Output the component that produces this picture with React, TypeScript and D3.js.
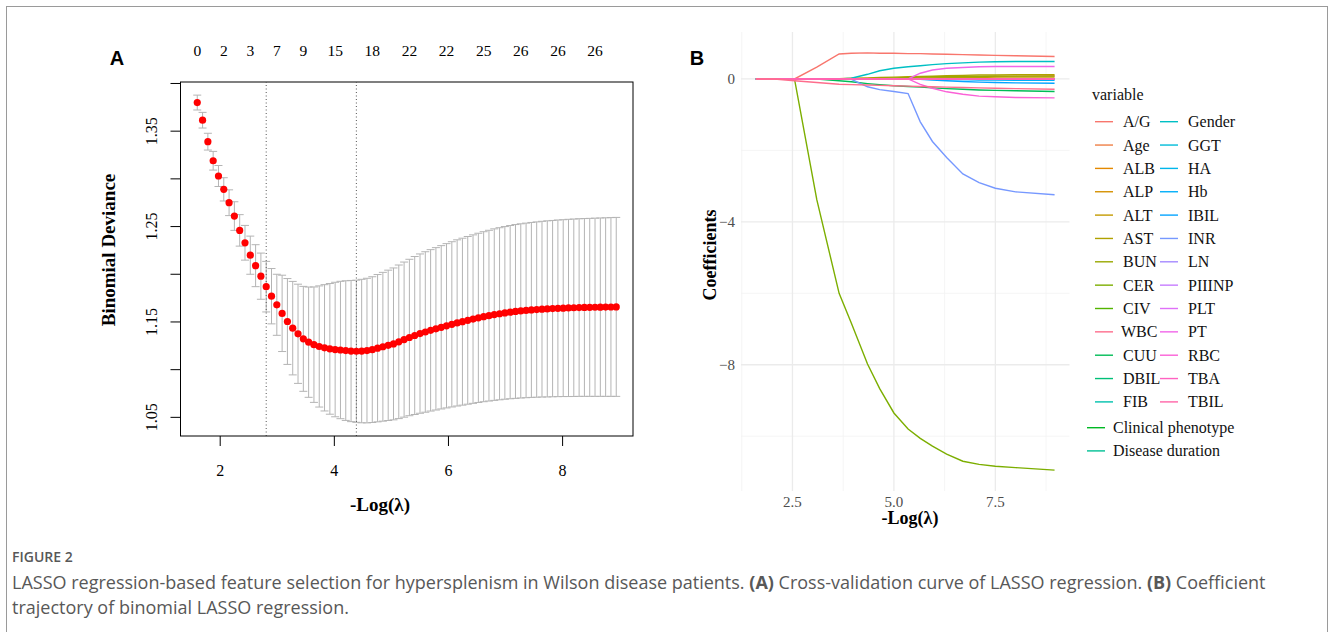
import React, { useEffect, useRef } from "react";
import * as d3 from "d3";

// ---------- panel A : cross-validation curve ----------
const logLambdaRange = [1.598, 8.94];

const cvMean = [
  1.380, 1.3615, 1.339, 1.319, 1.303, 1.289, 1.275, 1.261, 1.246, 1.233,
  1.220, 1.209, 1.198, 1.187, 1.177, 1.168, 1.159, 1.1505, 1.1435, 1.1376,
  1.1323, 1.1288, 1.1262, 1.1243, 1.1229, 1.1218, 1.1211, 1.1206, 1.1200, 1.1195,
  1.1193, 1.1195, 1.1200, 1.1210, 1.1225, 1.1240, 1.1255, 1.1270, 1.1292, 1.1315,
  1.1337, 1.1358, 1.1378, 1.1395, 1.1412, 1.1428, 1.1444, 1.1460, 1.1475, 1.1490,
  1.1503, 1.1517, 1.1530, 1.1543, 1.1555, 1.1566, 1.1577, 1.1586, 1.1595, 1.1603,
  1.1610, 1.1616, 1.1621, 1.1626, 1.1630, 1.1634, 1.1637, 1.1640, 1.1643, 1.1645,
  1.1647, 1.1649, 1.1651, 1.1652, 1.1653, 1.1654, 1.1655, 1.1656, 1.1657, 1.1658
];

const cvSE = [
  0.0078, 0.0082, 0.0088, 0.0098, 0.0110, 0.0122, 0.0135, 0.0150, 0.0165, 0.0182,
  0.0200, 0.0220, 0.0242, 0.0265, 0.0290, 0.0320, 0.0400, 0.0450, 0.0490, 0.0520,
  0.0550, 0.0578, 0.0605, 0.0635, 0.0662, 0.0685, 0.0705, 0.0720, 0.0732, 0.0740,
  0.0745, 0.0752, 0.0758, 0.0764, 0.0772, 0.0780, 0.0788, 0.0796, 0.0805, 0.0813,
  0.0820, 0.0828, 0.0835, 0.0841, 0.0846, 0.0851, 0.0856, 0.0861, 0.0866, 0.0871,
  0.0875, 0.0879, 0.0883, 0.0887, 0.0891, 0.0895, 0.0899, 0.0902, 0.0905, 0.0908,
  0.0911, 0.0913, 0.0915, 0.0917, 0.0919, 0.0921, 0.0923, 0.0924, 0.0926, 0.0927,
  0.0929, 0.0930, 0.0931, 0.0932, 0.0933, 0.0934, 0.0935, 0.0936, 0.0937, 0.0938
];

const idxLambdaMin = 30;
const idxLambda1se = 13;

const topLabelIdx = [0, 5, 10, 15, 20, 26, 33, 40, 47, 54, 61, 68, 75];
const topLabelNz = [0, 2, 3, 7, 9, 15, 18, 22, 22, 25, 26, 26, 26];

const xTicksA = [2, 4, 6, 8];
const yTicksA = [1.05, 1.1, 1.15, 1.2, 1.25, 1.3, 1.35, 1.4];
const yLabelsA = ["1.05", "1.15", "1.25", "1.35"];

// ---------- panel B : coefficient paths ----------
const variables = [
  "A/G", "Age", "ALB", "ALP", "ALT", "AST", "BUN", "CER", "CIV",
  "Clinical phenotype", "CUU", "DBIL", "Disease duration", "FIB", "Gender",
  "GGT", "HA", "Hb", "IBIL", "INR", "LN", "PIIINP", "PLT", "PT", "RBC",
  "TBA", "TBIL", "WBC"
];

const pathX = [1.6, 2.05, 2.55, 3.1, 3.65, 3.95, 4.35, 4.65, 5.0, 5.35, 5.65, 5.95, 6.3, 6.7, 7.1, 7.5, 8.0, 8.96];

const coefAG = [0, 0, 0, 0.33, 0.7, 0.72, 0.73, 0.72, 0.72, 0.71, 0.71, 0.7, 0.69, 0.68, 0.67, 0.66, 0.65, 0.63];
const coefCER = [0, 0, 0, -3.38, -6.0, -6.83, -7.98, -8.67, -9.35, -9.8, -10.06, -10.28, -10.5, -10.7, -10.79, -10.84, -10.88, -10.95];
const coefINR = [0, 0, 0, 0, 0, -0.01, -0.22, -0.3, -0.35, -0.41, -1.2, -1.75, -2.2, -2.66, -2.9, -3.06, -3.16, -3.24];
const coefGender = [0, 0, 0, 0, 0, 0.02, 0.13, 0.23, 0.3, 0.34, 0.37, 0.4, 0.43, 0.45, 0.47, 0.48, 0.49, 0.49];
const coefPT = [0, 0, 0, 0, 0, 0, 0, 0, 0, 0, 0.16, 0.25, 0.3, 0.32, 0.34, 0.35, 0.35, 0.35];
const coefRBC = [0, 0, 0, 0, 0, 0, 0, 0, 0, 0, -0.15, -0.26, -0.36, -0.43, -0.48, -0.5, -0.52, -0.53];
const coefWBC = [0, 0, -0.05, -0.1, -0.15, -0.16, -0.17, -0.18, -0.19, -0.2, -0.21, -0.22, -0.23, -0.24, -0.25, -0.26, -0.27, -0.29];
const coefCUU = [0, 0, 0, 0, -0.05, -0.08, -0.13, -0.16, -0.19, -0.21, -0.23, -0.25, -0.27, -0.29, -0.31, -0.32, -0.33, -0.35];
const coefAST = [0, 0, 0, 0, 0.01, 0.02, 0.03, 0.04, 0.05, 0.06, 0.07, 0.08, 0.09, 0.1, 0.11, 0.11, 0.12, 0.12];
const coefBUN = [0, 0, 0, 0, 0, 0, 0.01, 0.02, 0.03, 0.04, 0.05, 0.06, 0.06, 0.07, 0.07, 0.08, 0.08, 0.08];
const coefAge = [0, 0, 0, 0, 0, 0, 0, 0, 0, 0.01, 0.02, 0.03, 0.04, 0.05, 0.06, 0.07, 0.08, 0.09];
const coefALT = [0, 0, 0, 0, 0, 0, 0, 0, 0.01, 0.01, 0.02, 0.03, 0.03, 0.04, 0.04, 0.05, 0.05, 0.05];
const coefIBIL = [0, 0, 0, 0, 0, 0, 0, 0, 0, 0, -0.01, -0.03, -0.05, -0.07, -0.09, -0.1, -0.11, -0.12];
const coefHb = [0, 0, 0, 0, 0, 0, 0, 0, 0, 0, 0, -0.01, -0.02, -0.02, -0.03, -0.03, -0.04, -0.04];
const coefZero = [0, 0, 0, 0, 0, 0, 0, 0, 0, 0, 0, 0, 0, 0, 0, 0, 0, 0];

const xTicksB = [2.5, 5.0, 7.5];
const xMinorB = [1.25, 3.75, 6.25, 8.75];
const yTicksB = [0, -4, -8];
const yMinorB = [-2, -6, -10];

const legendCol1 = ["A/G", "Age", "ALB", "ALP", "ALT", "AST", "BUN", "CER", "CIV", "WBC", "CUU", "DBIL", "FIB"];
const legendCol2 = ["Gender", "GGT", "HA", "Hb", "IBIL", "INR", "LN", "PIIINP", "PLT", "PT", "RBC", "TBA", "TBIL"];
const legendExtra = ["Clinical phenotype", "Disease duration"];

const SERIF = "'Liberation Serif', 'Times New Roman', serif";
const SANS = "'Liberation Sans', Arial, sans-serif";

// R's hcl() (polar LUV) -> hex, for ggplot's hue palette
function hclHex(h, c, l) {
  var hr = (h * Math.PI) / 180;
  var U = c * Math.cos(hr);
  var V = c * Math.sin(hr);
  var Y = 100 * (l > 7.999592 ? Math.pow((l + 16) / 116, 3) : l / 903.3);
  var u = U / (13 * l) + 0.1978398;
  var v = V / (13 * l) + 0.4683363;
  var X = (9 * Y * u) / (4 * v);
  var Z = -X / 3 - 5 * Y + (3 * Y) / v;
  var g = t => (t > 0.00304 ? 1.055 * Math.pow(t, 1 / 2.4) - 0.055 : 12.92 * t);
  var cl = t => Math.round(255 * Math.max(0, Math.min(1, g(t))));
  var r = cl((3.240479 * X - 1.53715 * Y - 0.498535 * Z) / 100);
  var gg = cl((-0.969256 * X + 1.875992 * Y + 0.041556 * Z) / 100);
  var b = cl((0.055648 * X - 0.204043 * Y + 1.057311 * Z) / 100);
  return d3.rgb(r, gg, b).formatHex();
}

export default function App() {
  const ref = useRef(null);

  useEffect(() => {
    document.body.style.margin = "0";
    var svg = d3.select(ref.current);
    svg.selectAll("*").remove();

    // outer frame
    svg
      .append("rect")
      .attr("x", 6.5)
      .attr("y", 6.5)
      .attr("width", 1321)
      .attr("height", 650)
      .attr("fill", "none")
      .attr("stroke", "#9a9a9a");

    // ================= panel A =================
    var n = cvMean.length;
    var idxToLog = d3.scaleLinear().domain([0, n - 1]).range(logLambdaRange);
    var xPad = (logLambdaRange[1] - logLambdaRange[0]) * 0.04;
    var xA = d3
      .scaleLinear()
      .domain([logLambdaRange[0] - xPad, logLambdaRange[1] + xPad])
      .range([180.5, 633]);
    var upper = cvMean.map((m, i) => m + cvSE[i]);
    var lower = cvMean.map((m, i) => m - cvSE[i]);
    var yMin = d3.min(lower);
    var yMax = d3.max(upper);
    var yPad = (yMax - yMin) * 0.04;
    var yA = d3
      .scaleLinear()
      .domain([yMin - yPad, yMax + yPad])
      .range([436, 82]);

    var gA = svg.append("g");
    var px = i => xA(idxToLog(i));

    // error bars
    var bars = gA.append("g").attr("stroke", "#b4b4b4").attr("stroke-width", 1);
    cvMean.forEach((m, i) => {
      bars.append("line").attr("x1", px(i)).attr("x2", px(i)).attr("y1", yA(upper[i])).attr("y2", yA(lower[i]));
      bars.append("line").attr("x1", px(i) - 4).attr("x2", px(i) + 4).attr("y1", yA(upper[i])).attr("y2", yA(upper[i]));
      bars.append("line").attr("x1", px(i) - 4).attr("x2", px(i) + 4).attr("y1", yA(lower[i])).attr("y2", yA(lower[i]));
    });

    // lambda.min / lambda.1se
    [idxLambda1se, idxLambdaMin].forEach(i => {
      gA.append("line")
        .attr("x1", px(i))
        .attr("x2", px(i))
        .attr("y1", yA.range()[0])
        .attr("y2", yA.range()[1])
        .attr("stroke", "#555")
        .attr("stroke-dasharray", "1,2.5");
    });

    // points
    gA.selectAll(".cvdot")
      .data(cvMean)
      .enter()
      .append("circle")
      .attr("class", "cvdot")
      .attr("cx", (d, i) => px(i))
      .attr("cy", d => yA(d))
      .attr("r", 3.6)
      .attr("fill", "#ff0000");

    // box
    gA.append("rect")
      .attr("x", xA.range()[0])
      .attr("y", yA.range()[1])
      .attr("width", xA.range()[1] - xA.range()[0])
      .attr("height", yA.range()[0] - yA.range()[1])
      .attr("fill", "none")
      .attr("stroke", "#000");

    // bottom axis
    xTicksA.forEach(t => {
      gA.append("line").attr("x1", xA(t)).attr("x2", xA(t)).attr("y1", 436).attr("y2", 446).attr("stroke", "#000");
      gA.append("text")
        .attr("x", xA(t))
        .attr("y", 476)
        .attr("text-anchor", "middle")
        .attr("font-family", SERIF)
        .attr("font-size", 16)
        .text(t);
    });

    // left axis
    yTicksA.forEach(t => {
      gA.append("line").attr("x1", 170.5).attr("x2", 180.5).attr("y1", yA(t)).attr("y2", yA(t)).attr("stroke", "#000");
    });
    yLabelsA.forEach(t => {
      gA.append("text")
        .attr("transform", "translate(157," + yA(+t) + ") rotate(-90)")
        .attr("text-anchor", "middle")
        .attr("font-family", SERIF)
        .attr("font-size", 16)
        .text(t);
    });

    // top axis : number of non-zero coefficients
    topLabelIdx.forEach((idx, k) => {
      gA.append("text")
        .attr("x", px(idx))
        .attr("y", 56)
        .attr("text-anchor", "middle")
        .attr("font-family", SERIF)
        .attr("font-size", 15.5)
        .text(topLabelNz[k]);
    });

    gA.append("text")
      .attr("transform", "translate(115,250) rotate(-90)")
      .attr("text-anchor", "middle")
      .attr("font-family", SERIF)
      .attr("font-weight", "bold")
      .attr("font-size", 19)
      .text("Binomial Deviance");

    gA.append("text")
      .attr("x", 380)
      .attr("y", 511)
      .attr("text-anchor", "middle")
      .attr("font-family", SERIF)
      .attr("font-weight", "bold")
      .attr("font-size", 19)
      .text("-Log(λ)");

    gA.append("text")
      .attr("x", 117)
      .attr("y", 65)
      .attr("text-anchor", "middle")
      .attr("font-family", SANS)
      .attr("font-weight", "bold")
      .attr("font-size", 20)
      .text("A");

    // ================= panel B =================
    var paths = {
      "A/G": coefAG,
      Age: coefAge,
      ALT: coefALT,
      AST: coefAST,
      BUN: coefBUN,
      CER: coefCER,
      CUU: coefCUU,
      Gender: coefGender,
      Hb: coefHb,
      IBIL: coefIBIL,
      INR: coefINR,
      PT: coefPT,
      RBC: coefRBC,
      WBC: coefWBC
    };
    var colour = {};
    variables.forEach((v, i) => {
      colour[v] = hclHex(15 + (i * 360) / variables.length, 100, 65);
    });

    var allY = variables.flatMap(v => paths[v] || coefZero);
    var bxExt = d3.extent(pathX);
    var byExt = d3.extent(allY);
    var bxPad = (bxExt[1] - bxExt[0]) * 0.05;
    var byPad = (byExt[1] - byExt[0]) * 0.05;
    var xB = d3
      .scaleLinear()
      .domain([bxExt[0] - bxPad, bxExt[1] + bxPad])
      .range([741, 1069.5]);
    var yB = d3
      .scaleLinear()
      .domain([byExt[0] - byPad, byExt[1] + byPad])
      .range([491, 32]);

    var gB = svg.append("g");
    var grid = gB.append("g");
    xMinorB.forEach(t => {
      grid.append("line").attr("x1", xB(t)).attr("x2", xB(t)).attr("y1", 32).attr("y2", 491).attr("stroke", "#f2f2f2").attr("stroke-width", 0.8);
    });
    yMinorB.forEach(t => {
      grid.append("line").attr("x1", 741).attr("x2", 1069.5).attr("y1", yB(t)).attr("y2", yB(t)).attr("stroke", "#f2f2f2").attr("stroke-width", 0.8);
    });
    xTicksB.forEach(t => {
      grid.append("line").attr("x1", xB(t)).attr("x2", xB(t)).attr("y1", 32).attr("y2", 491).attr("stroke", "#ebebeb").attr("stroke-width", 1.3);
    });
    yTicksB.forEach(t => {
      grid.append("line").attr("x1", 741).attr("x2", 1069.5).attr("y1", yB(t)).attr("y2", yB(t)).attr("stroke", "#ebebeb").attr("stroke-width", 1.3);
    });

    var line = d3
      .line()
      .x((d, i) => xB(pathX[i]))
      .y(d => yB(d));

    variables.forEach(v => {
      gB.append("path")
        .attr("d", line(paths[v] || coefZero))
        .attr("fill", "none")
        .attr("stroke", colour[v])
        .attr("stroke-width", 1.4);
    });

    xTicksB.forEach(t => {
      gB.append("text")
        .attr("x", xB(t))
        .attr("y", 507)
        .attr("text-anchor", "middle")
        .attr("font-family", SERIF)
        .attr("font-size", 15)
        .attr("fill", "#4d4d4d")
        .text(t.toFixed(1));
    });
    yTicksB.forEach(t => {
      gB.append("text")
        .attr("x", 735)
        .attr("y", yB(t) + 5)
        .attr("text-anchor", "end")
        .attr("font-family", SERIF)
        .attr("font-size", 15)
        .attr("fill", "#4d4d4d")
        .text(t < 0 ? "\u2212" + Math.abs(t) : t);
    });

    gB.append("text")
      .attr("x", 910)
      .attr("y", 524)
      .attr("text-anchor", "middle")
      .attr("font-family", SERIF)
      .attr("font-weight", "bold")
      .attr("font-size", 18)
      .text("-Log(λ)");

    gB.append("text")
      .attr("transform", "translate(716,255) rotate(-90)")
      .attr("text-anchor", "middle")
      .attr("font-family", SERIF)
      .attr("font-weight", "bold")
      .attr("font-size", 18)
      .text("Coefficients");

    gB.append("text")
      .attr("x", 697)
      .attr("y", 65)
      .attr("text-anchor", "middle")
      .attr("font-family", SANS)
      .attr("font-weight", "bold")
      .attr("font-size", 20)
      .text("B");

    // legend
    var lg = gB.append("g").attr("font-family", SERIF).attr("font-size", 16).attr("fill", "#111");
    lg.append("text").attr("x", 1092).attr("y", 100).text("variable");
    var rowY = i => 121.7 + i * 23.35;
    var legendItem = (name, x0, y, labelX) => {
      lg.append("line")
        .attr("x1", x0)
        .attr("x2", x0 + 18)
        .attr("y1", y)
        .attr("y2", y)
        .attr("stroke", colour[name])
        .attr("stroke-width", 1.4);
      lg.append("text").attr("x", labelX).attr("y", y + 5.5).text(name);
    };
    legendCol1.forEach((v, i) => legendItem(v, 1095, rowY(i), v === "WBC" ? 1121 : 1123));
    legendCol2.forEach((v, i) => legendItem(v, 1160, rowY(i), 1188));
    legendExtra.forEach((v, i) => legendItem(v, 1087, 427.7 + i * 23.2, 1113));

    // ================= caption =================
    var cap = svg.append("g").attr("font-family", "'Open Sans', sans-serif").attr("fill", "#585858");
    cap.append("text")
      .attr("x", 12)
      .attr("y", 562)
      .attr("font-size", 14)
      .attr("font-weight", 600)
      .text("FIGURE 2");
    var l1 = cap.append("text").attr("x", 12).attr("y", 589).attr("font-size", 18);
    l1.append("tspan").text("LASSO regression-based feature selection for hypersplenism in Wilson disease patients. ");
    l1.append("tspan").attr("font-weight", "bold").text("(A)");
    l1.append("tspan").text(" Cross-validation curve of LASSO regression. ");
    l1.append("tspan").attr("font-weight", "bold").text("(B)");
    l1.append("tspan").text(" Coefficient");
    cap.append("text")
      .attr("x", 12)
      .attr("y", 614)
      .attr("font-size", 18)
      .text("trajectory of binomial LASSO regression.");
  }, []);

  return <svg ref={ref} width={1330} height={632} style={{ display: "block", background: "#fff" }} />;
}
